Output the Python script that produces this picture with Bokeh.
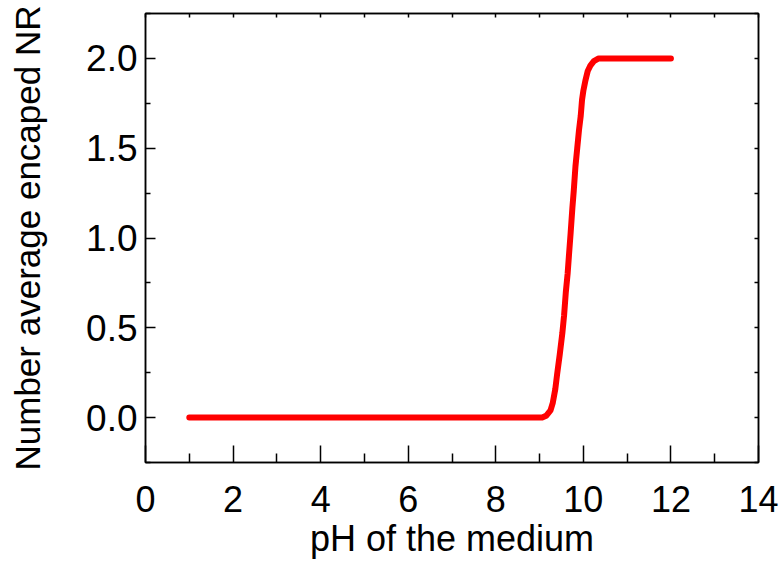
from bokeh.plotting import figure
from bokeh.models import LinearAxis, FixedTicker, Range1d, NumeralTickFormatter
from bokeh.embed import file_html
from bokeh.resources import INLINE

# Data
ph = [1.0, 2.0, 3.0, 4.0, 5.0, 6.0, 7.0, 8.0, 8.5, 9.0, 9.06, 9.15, 9.25, 9.30,
      9.36, 9.40, 9.46, 9.52, 9.56, 9.60, 9.64, 9.67, 9.71, 9.75, 9.78, 9.82,
      9.86, 9.90, 9.94, 9.97, 10.00, 10.05, 10.10, 10.16, 10.24, 10.35, 10.45,
      11.0, 11.5, 12.0]
n_encaped = [0.0, 0.0, 0.0, 0.0, 0.0, 0.0, 0.0, 0.0, 0.0, 0.0, 0.0, 0.01, 0.04, 0.08,
             0.16, 0.24, 0.35, 0.47, 0.57, 0.70, 0.80, 0.90, 1.03, 1.17, 1.26, 1.40,
             1.50, 1.60, 1.68, 1.77, 1.82, 1.88, 1.93, 1.96, 1.985, 2.0, 2.0,
             2.0, 2.0, 2.0]

x_major = [0, 2, 4, 6, 8, 10, 12, 14]
x_minor = [1, 3, 5, 7, 9, 11, 13]
y_major = [0.0, 0.5, 1.0, 1.5, 2.0]
y_minor = [-0.25, 0.25, 0.75, 1.25, 1.75, 2.25]

FONT = "Liberation Sans"

p = figure(width=783, height=561, output_backend="svg", toolbar_location=None,
           x_range=Range1d(0, 14), y_range=Range1d(-0.25, 2.25),
           min_border_left=145, min_border_right=25, min_border_top=13,
           min_border_bottom=99, x_axis_location=None, y_axis_location=None)
p.frame_width = 613
p.frame_height = 449
p.grid.visible = False
p.outline_line_color = "black"
p.outline_line_width = 1.5

p.line(ph, n_encaped, line_color="#ff0000", line_width=6,
       line_cap="round", line_join="round")

# bottom axis
xb = LinearAxis(ticker=FixedTicker(ticks=x_major, minor_ticks=x_minor))
xb.axis_label = "pH of the medium"
xb.axis_label_text_font = FONT
xb.axis_label_text_font_size = "36px"
xb.axis_label_text_font_style = "normal"
xb.axis_label_text_color = "black"
xb.axis_label_standoff = 3
xb.major_label_text_font = FONT
xb.major_label_text_font_size = "36px"
xb.major_label_text_color = "black"
xb.major_label_standoff = 23
xb.major_tick_in = 17
xb.major_tick_out = 0
xb.minor_tick_in = 9
xb.minor_tick_out = 0
xb.axis_line_width = 1.5
xb.major_tick_line_width = 1.5
xb.minor_tick_line_width = 1.5
xb.axis_line_color = "black"
xb.major_tick_line_color = "black"
xb.minor_tick_line_color = "black"
p.add_layout(xb, "below")

# left axis
yl = LinearAxis(ticker=FixedTicker(ticks=y_major, minor_ticks=y_minor),
                formatter=NumeralTickFormatter(format="0.0"))
yl.axis_label = "Number average encaped NR"
yl.axis_label_text_font = FONT
yl.axis_label_text_font_size = "35px"
yl.axis_label_text_font_style = "normal"
yl.axis_label_text_color = "black"
yl.axis_label_standoff = 36
yl.major_label_text_font = FONT
yl.major_label_text_font_size = "37px"
yl.major_label_text_color = "black"
yl.major_label_standoff = 8
yl.major_tick_in = 10
yl.major_tick_out = 0
yl.minor_tick_in = 5
yl.minor_tick_out = 0
yl.axis_line_width = 1.5
yl.major_tick_line_width = 1.5
yl.minor_tick_line_width = 1.5
yl.axis_line_color = "black"
yl.major_tick_line_color = "black"
yl.minor_tick_line_color = "black"
p.add_layout(yl, "left")

# top mirror axis
xt = LinearAxis(ticker=FixedTicker(ticks=list(range(0, 15)), minor_ticks=[]))
xt.major_label_text_font_size = "0px"
xt.major_label_text_color = None
xt.major_tick_in = 4
xt.major_tick_out = 0
xt.minor_tick_in = 0
xt.minor_tick_out = 0
xt.axis_line_width = 1.5
xt.major_tick_line_width = 1.5
xt.axis_line_color = "black"
xt.major_tick_line_color = "black"
p.add_layout(xt, "above")

# right mirror axis
yr = LinearAxis(ticker=FixedTicker(ticks=y_major + y_minor, minor_ticks=[]))
yr.major_label_text_font_size = "0px"
yr.major_label_text_color = None
yr.major_tick_in = 4
yr.major_tick_out = 0
yr.minor_tick_in = 0
yr.minor_tick_out = 0
yr.axis_line_width = 1.5
yr.major_tick_line_width = 1.5
yr.axis_line_color = "black"
yr.major_tick_line_color = "black"
p.add_layout(yr, "right")

open("out.html", "w").write(file_html(p, INLINE))
